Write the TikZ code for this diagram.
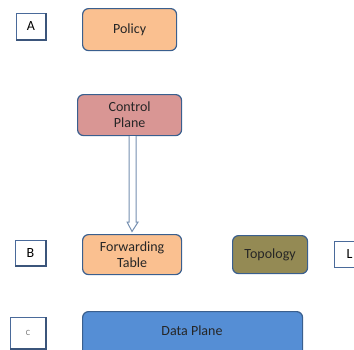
\documentclass[tikz,border=0pt]{standalone}
\usepackage{fontspec}
\setmainfont{Carlito}
\definecolor{edgeblue}{HTML}{3A5F8E}
\definecolor{peach}{HTML}{FAC090}
\definecolor{rose}{HTML}{D99694}
\definecolor{olive}{HTML}{948A54}
\definecolor{planeblue}{HTML}{558ED5}
\definecolor{tagedge}{HTML}{4A6A9A}
\tikzset{
  blockbox/.style={draw=edgeblue, line width=1.2pt, rounded corners=6pt,
    inner sep=0pt, anchor=north west, font=\fontsize{14}{15}\selectfont,
    align=center, text=black!85},
  tagbox/.style={draw=tagedge, line width=1pt, fill=white, inner sep=0pt,
    anchor=north west, font=\fontsize{14}{15}\selectfont},
  tagshadow/.style={draw=tagedge!80!black, line width=1.6pt},
}
\begin{document}
\begin{tikzpicture}[x=1pt, y=-1pt]
  \useasboundingbox (0,0) rectangle (354,349);
  % letter tags on the left and right
  \node[tagbox, minimum width=29pt, minimum height=26pt] (tA) at (16,13) {A};
  \node[tagbox, minimum width=30pt, minimum height=25pt] (tB) at (15,240) {B};
  \node[tagbox, minimum width=35pt, minimum height=31pt, text=black!55,
        font=\fontsize{8}{9}\selectfont] (tC) at (10,317) {C};
  \node[tagbox, minimum width=30pt, minimum height=26pt] (tL) at (334,241) {L};
  \foreach \t in {tA,tB,tC}
    \draw[tagshadow] (\t.south west) -- (\t.south east) -- (\t.north east);
  % functional blocks
  \node[blockbox, fill=peach, minimum width=94pt, minimum height=42pt] (policy) at (82,8) {Policy};
  \node[blockbox, fill=rose, minimum width=104pt, minimum height=41pt] (control) at (77,94) {Control\\[1pt]Plane};
  \node[blockbox, fill=peach, minimum width=99pt, minimum height=40pt] (fwd) at (82,234) {Forwarding\\[1pt]Table};
  \node[blockbox, fill=olive, minimum width=75pt, minimum height=38pt] (topo) at (232,235) {Topology};
  \node[blockbox, fill=planeblue, minimum width=220pt, minimum height=50pt] (data) at (82,311) {};
  \node[font=\fontsize{14}{15}\selectfont, text=black!85] (datalbl) at (192,331) {Data Plane};
  % hollow block arrow from the control plane down to the forwarding table
  \coordinate (shaftTop) at ([xshift=3pt]control.south);
  \coordinate (headTip) at ([xshift=50pt, yshift=2.5pt]fwd.north west);
  \draw[edgeblue!70, line width=1pt, fill=white]
    ([xshift=-3.5pt]shaftTop) -- ([xshift=-3.5pt]shaftTop |- 0,222)
    -- ([xshift=-5.5pt]shaftTop |- 0,222) -- (headTip)
    -- ([xshift=5.5pt]shaftTop |- 0,222) -- ([xshift=3.5pt]shaftTop |- 0,222)
    -- ([xshift=3.5pt]shaftTop);
\end{tikzpicture}
\end{document}
